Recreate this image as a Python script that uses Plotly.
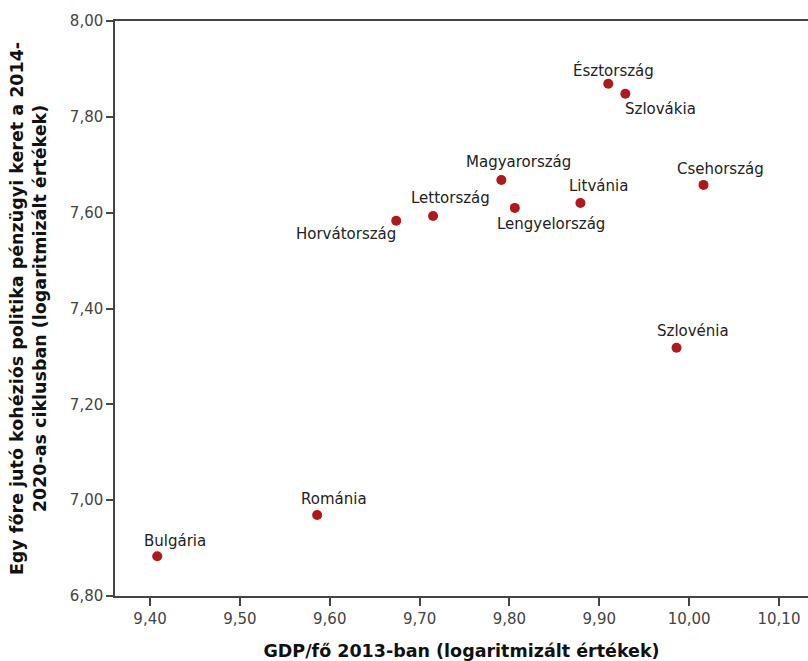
import plotly.graph_objects as go

countries = ["Bulgária", "Románia", "Horvátország", "Lettország", "Magyarország",
             "Lengyelország", "Litvánia", "Észtország", "Szlovákia", "Csehország", "Szlovénia"]
gdp_log = [9.408, 9.586, 9.674, 9.715, 9.791, 9.806, 9.879, 9.910, 9.929, 10.016, 9.986]
cohesion_log = [6.883, 6.969, 7.583, 7.593, 7.668, 7.610, 7.620, 7.869, 7.848, 7.658, 7.318]

# label offsets (pixels) - styling only
label_dx = [18, 17, -50, 17, 17, 36, 18, 5, 35, 17, 16]
label_dy = [15, 16, -13, 18, 18, -16, 17, 13, -15, 16, 17]

x_ticks = [9.4, 9.5, 9.6, 9.7, 9.8, 9.9, 10.0, 10.1]
y_ticks = [6.8, 7.0, 7.2, 7.4, 7.6, 7.8, 8.0]

FONT = "DejaVu Sans, Verdana, sans-serif"

fig = go.Figure()
fig.add_trace(go.Scatter(
    x=gdp_log, y=cohesion_log, mode="markers",
    marker=dict(color="#b0181d", size=10),
    hoverinfo="skip", showlegend=False,
))

for c, xv, yv, dx, dy in zip(countries, gdp_log, cohesion_log, label_dx, label_dy):
    fig.add_annotation(x=xv, y=yv, text=c, showarrow=False,
                       xshift=dx, yshift=dy,
                       font=dict(family=FONT, size=15, color="#222"))

fig.update_layout(
    width=808, height=661,
    margin=dict(l=115, r=0, t=21, b=65),
    paper_bgcolor="white", plot_bgcolor="white",
    separators=", ",
    font=dict(family=FONT, color="#333"),
)
fig.update_xaxes(
    range=[9.361, 10.1323], tickvals=x_ticks, tickformat=".2f",
    showgrid=False, zeroline=False,
    showline=True, linecolor="#444", linewidth=1.5, mirror=True,
    ticks="outside", ticklen=8, tickwidth=1.5, tickcolor="#444",
    tickfont=dict(size=15, color="#444"),
    title=dict(text="<b>GDP/fő 2013-ban (logaritmizált értékek)</b>",
               font=dict(size=17.5, color="#111"), standoff=21),
)
fig.update_yaxes(
    range=[6.8, 8.0], tickvals=y_ticks, tickformat=".2f",
    showgrid=False, zeroline=False,
    showline=True, linecolor="#444", linewidth=1.5,
    ticks="outside", ticklen=7, tickwidth=1.5, tickcolor="#444",
    tickfont=dict(size=15, color="#444"),
    title=dict(text="<b>Egy főre jutó kohéziós politika pénzügyi keret a 2014-<br>2020-as ciklusban (logaritmizált értékek)</b>",
               font=dict(size=17.5, color="#111"), standoff=19),
)

fig.write_html("out.html", config={"displayModeBar": False},
               post_script="document.body.style.margin='0';")
